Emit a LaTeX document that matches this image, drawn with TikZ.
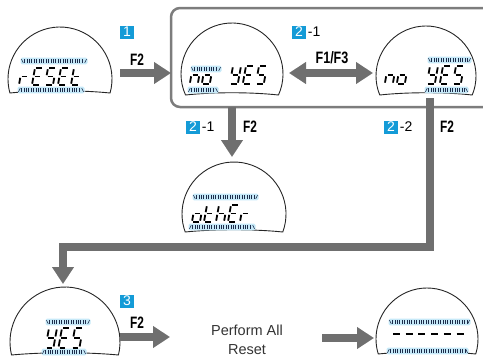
\documentclass[tikz,border=0pt]{standalone}
\usepackage{fontspec}
\setmainfont{Liberation Sans}
\usetikzlibrary{arrows.meta,calc}
\definecolor{arrowgray}{HTML}{6F6F6F}
\definecolor{boxgray}{HTML}{7D7D7D}
\definecolor{badgeblue}{HTML}{149BD7}
\definecolor{glow}{HTML}{C6E9F8}
\definecolor{tickc}{HTML}{1C2B4A}
\definecolor{txtgray}{HTML}{333333}
\tikzset{
  lcdline/.style={draw=black!85, line width=0.9pt},
  seg/.style={line width=1.8pt, line cap=butt, black},
  tickline/.style={line width=0.6pt, tickc},
  bigarrow/.style={draw=arrowgray, line width=8pt, line join=miter,
    -{Triangle[length=17pt,width=21pt]}},
  badge/.style={fill=badgeblue, text=white, inner sep=0pt, minimum width=14pt,
    minimum height=13pt, font=\fontsize{14}{14}\selectfont},
  lbl/.style={inner sep=0pt, font=\fontsize{14}{14}\selectfont, anchor=west},
  fkey/.style={inner sep=0pt, font=\fontsize{16.5}{16.5}\selectfont\bfseries},
  plain/.style={inner sep=0pt, text=txtgray, font=\fontsize{14.5}{14.5}\selectfont}
}
\expandafter\def\csname sga\endcsname{(1.2,0)--(6.8,0)}
\expandafter\def\csname sgb\endcsname{(8,1.2)--(8,6.8)}
\expandafter\def\csname sgc\endcsname{(8,9.2)--(8,14.8)}
\expandafter\def\csname sgd\endcsname{(1.2,16)--(6.8,16)}
\expandafter\def\csname sge\endcsname{(0,9.2)--(0,14.8)}
\expandafter\def\csname sgf\endcsname{(0,1.2)--(0,6.8)}
\expandafter\def\csname sgg\endcsname{(1.2,8)--(6.8,8)}
\def\chR{e,g}
\def\chE{a,d,e,f,g}
\def\chS{a,c,d,f,g}
\def\chT{d,e,f,g}
\def\chN{c,e,g}
\def\chO{c,d,e,g}
\def\chY{b,c,d,f,g}
\def\chH{c,e,f,g}
% x, y(top), height, segment list
\newcommand\sgchar[4]{%
  \begin{scope}[shift={(#1,#2)},xslant=0.18,yscale=#3/16]
    \foreach \s in #4 {\edef\tmp{\noexpand\draw[seg] \csname sg\s\endcsname;}\tmp}
  \end{scope}}
% x1, x2, y, dir (1 top, -1 bottom)
\newcommand\indbar[4]{%
  \begin{scope}[shift={(#1,#3)}]
    \pgfmathsetmacro\blen{#2-#1}
    \pgfmathsetmacro\bend{#2-#1-2}
    \fill[glow, rounded corners=1.5pt] (-1.5,-3.3) rectangle ({\blen+1.5},3.3);
    \foreach \xx in {2.4,4.8,...,\bend} {\draw[tickline] (\xx,-1.8)--(\xx,1.8);}
    \draw[tickline] ({0.4-0.9*(#4)},-1.8)--({0.4+0.9*(#4)},1.8);
    \draw[tickline] ({\blen-0.4+0.9*(#4)},-1.8)--({\blen-0.4-0.9*(#4)},1.8);
  \end{scope}}
% cx, cy, R, d
\newcommand\dispshape[4]{%
  \pgfmathsetmacro\dang{asin(#4/#3)}
  \pgfmathsetmacro\dhw{sqrt(#3*#3-#4*#4)}
  \draw[lcdline] ({#1+\dhw},{#2+#4}) arc[start angle=\dang, end angle={-180-\dang}, radius=#3]
    .. controls +({0.6*\dhw},-3) and +({-0.6*\dhw},-3) .. ({#1+\dhw},{#2+#4}) -- cycle;}
\begin{document}
\begin{tikzpicture}[x=1pt,y=-1pt]
\useasboundingbox (0,0) rectangle (483,357);
\clip (0,0) rectangle (483,357);
% ---------- display centres
\coordinate (d1) at (60,79);
\coordinate (d2) at (232,74);
\coordinate (d3) at (426,76);
\coordinate (d4) at (234,214);
\coordinate (d5) at (65,342);
\coordinate (d6) at (427,339);
% ---------- frame around step 2
\node[draw=boxgray, line width=2.5pt, rounded corners=9pt, minimum width=335pt,
  minimum height=99pt, inner sep=0pt, outer sep=0pt, anchor=north west] (box) at (171,8) {};
% ---------- display 1: rESEt
\dispshape{60}{79}{52}{14}
\indbar{22}{86}{61}{1}
\indbar{19}{83}{90}{-1}
\sgchar{22}{68}{17}{\chR}
\sgchar{35}{68}{17}{\chE}
\sgchar{48}{68}{17}{\chS}
\sgchar{61}{68}{17}{\chE}
\sgchar{74}{68}{17}{\chT}
% ---------- display 2: no YES (no selected)
\dispshape{232}{74}{51}{21}
\indbar{192}{220}{69}{1}
\indbar{189}{217}{90}{-1}
\sgchar{193}{66}{18}{\chN}
\sgchar{205}{66}{18}{\chO}
\sgchar{233}{66}{18}{\chY}
\sgchar{246}{66}{18}{\chE}
\sgchar{259}{66}{18}{\chS}
% ---------- display 3: no YES (YES selected)
\dispshape{426}{76}{50}{19}
\indbar{429}{470}{60}{1}
\indbar{426}{467}{90}{-1}
\sgchar{388}{66}{18}{\chN}
\sgchar{400}{66}{18}{\chO}
\sgchar{430}{66}{18}{\chY}
\sgchar{443}{66}{18}{\chE}
\sgchar{456}{66}{18}{\chS}
% ---------- display 4: othEr
\dispshape{234}{214}{52}{18}
\indbar{194}{257}{197}{1}
\indbar{190}{254}{227}{-1}
\sgchar{195}{205}{17}{\chO}
\sgchar{207}{205}{17}{\chT}
\sgchar{219}{205}{17}{\chH}
\sgchar{231}{205}{17}{\chE}
\sgchar{243}{205}{17}{\chR}
% ---------- display 5: YES
\dispshape{65}{342}{55}{13}
\indbar{47}{89}{322}{1}
\indbar{43}{85}{352}{-1}
\sgchar{49}{328}{20}{\chY}
\sgchar{62}{328}{20}{\chE}
\sgchar{75}{328}{20}{\chS}
% ---------- display 6: ------
\dispshape{427}{339}{51}{15}
\indbar{390}{469}{322}{1}
\indbar{388}{467}{351}{-1}
\foreach \i in {0,...,5} {\draw[seg, line width=2pt] ({393+12.7*\i},334) -- ++(7,0);}
% ---------- connectors
\coordinate (a1s) at (120,73);
\draw[bigarrow] (a1s) -- (a1s -| box.west);
\coordinate (a2l) at (289,73);
\coordinate (a2r) at (373,73);
\draw[bigarrow, {Triangle[length=17pt,width=21pt]}-{Triangle[length=17pt,width=21pt]}] (a2l) -- (a2r);
\coordinate (a3e) at (232,157);
\draw[bigarrow] (box.south -| a3e) -- (a3e);
\coordinate (a4s) at (430,98);
\coordinate (a4m) at (63,247);
\coordinate (a4e) at (63,284);
\draw[bigarrow] (a4s) |- (a4m) -- (a4e);
\coordinate (a5s) at (120,337);
\coordinate (a5e) at (170,337);
\draw[bigarrow] (a5s) -- (a5e);
\coordinate (a6s) at (322,338);
\coordinate (a6e) at (374,338);
\draw[bigarrow] (a6s) -- (a6e);
% ---------- labels
\node[badge] (b1) at (127,32) {1};
\node[fkey] (f1) at (137,60) {\scalebox{0.72}[1]{F2}};
\node[badge] (b21) at (299,32) {2};
\node[lbl] (l21) at ([xshift=1.5pt]b21.east) {-1};
\node[fkey] (f13) at (332,58) {\scalebox{0.76}[1]{F1/F3}};
\node[badge] (b21b) at (193,127) {2};
\node[lbl] (l21b) at ([xshift=1.5pt]b21b.east) {-1};
\node[fkey] (f2a) at (250,127) {\scalebox{0.72}[1]{F2}};
\node[badge] (b22) at (391,127) {2};
\node[lbl] (l22) at ([xshift=1.5pt]b22.east) {-2};
\node[fkey] (f2b) at (447,127) {\scalebox{0.72}[1]{F2}};
\node[badge] (b3) at (127,301) {3};
\node[fkey] (f3) at (137,323) {\scalebox{0.72}[1]{F2}};
\node[plain] (t1) at (247,330) {Perform All};
\node[plain] (t2) at (247,350) {Reset};
\end{tikzpicture}
\end{document}
